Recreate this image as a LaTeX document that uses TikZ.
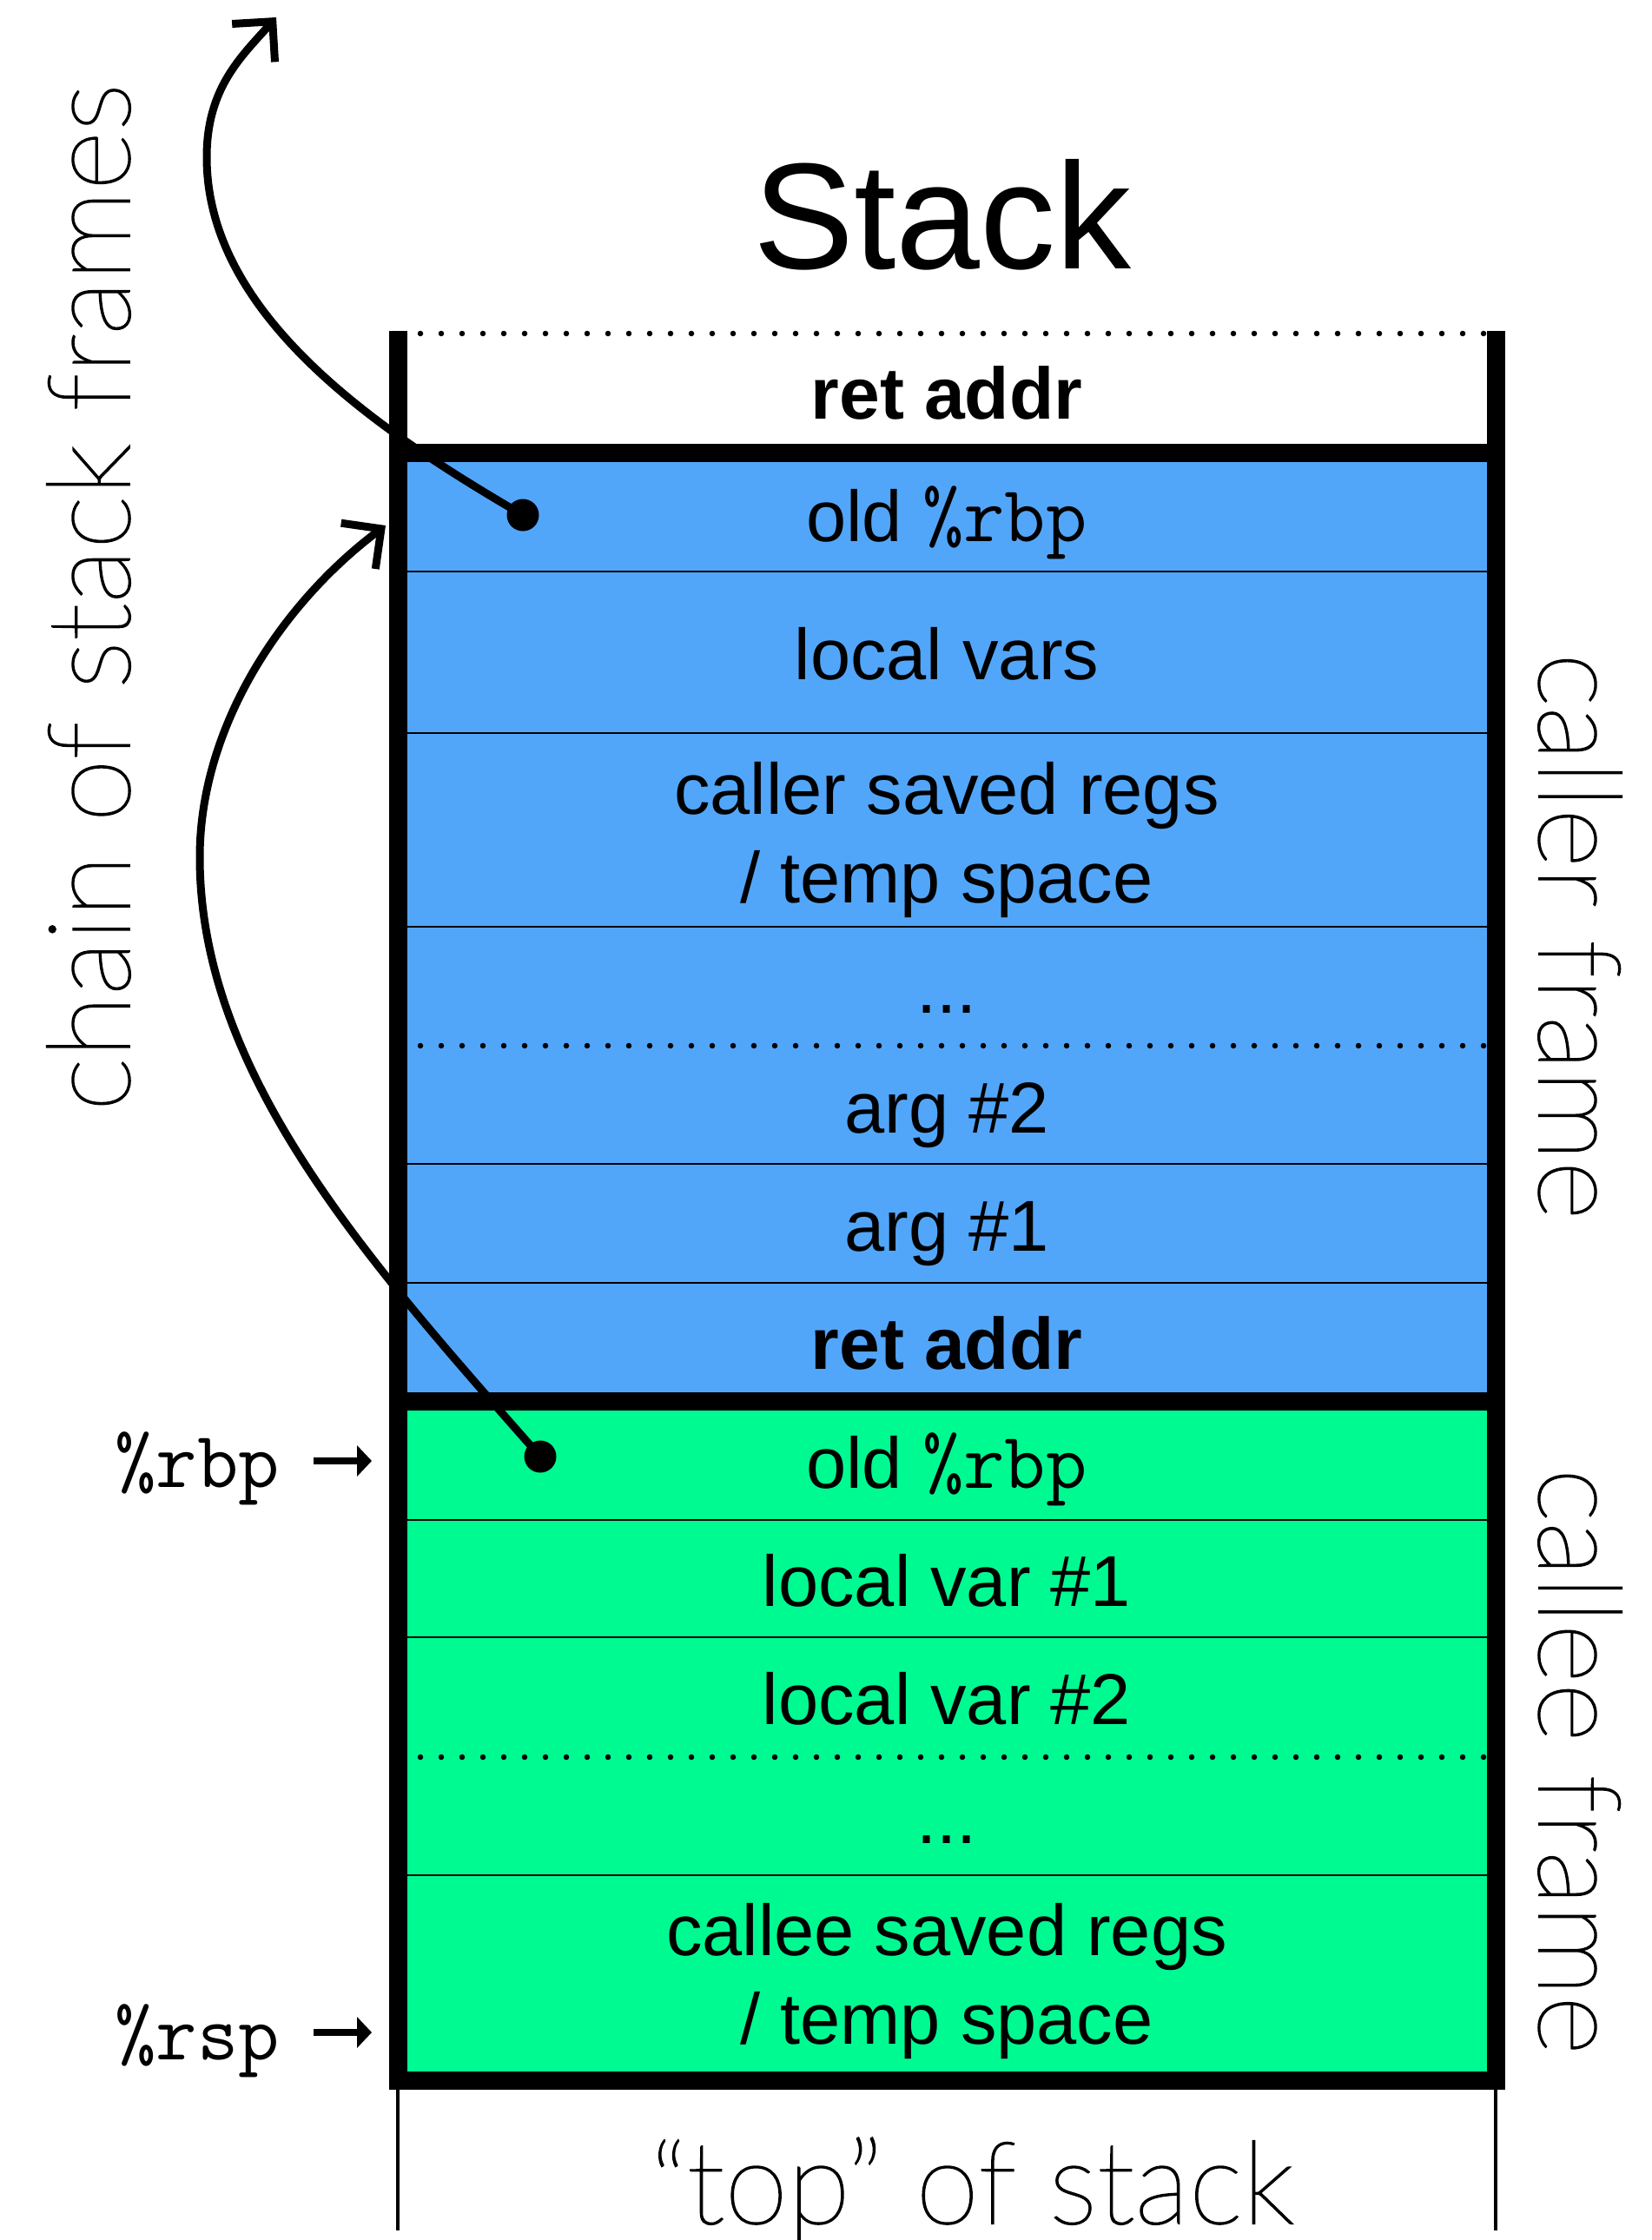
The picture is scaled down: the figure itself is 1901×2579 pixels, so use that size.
\documentclass[tikz,border=0pt]{standalone}
\usepackage{fontspec}
\setmainfont{Liberation Sans}
\IfFontExistsTF{Lato Thin}{\newfontfamily\thinfont{Lato Thin}[FakeBold=1.5]}{\newfontfamily\thinfont{Lato Light}}
\usetikzlibrary{arrows.meta}
\definecolor{callerblue}{RGB}{82,166,250}
\definecolor{calleegreen}{RGB}{0,250,146}
\newcommand\regtt[1]{{\fontsize{46pt}{50pt}\selectfont\ttfamily #1}}
\begin{document}
\begin{tikzpicture}[x=0.5pt,y=-0.5pt,
  cell/.style={anchor=base, inner sep=0pt, font=\fontsize{41.5pt}{50pt}\selectfont},
  boldcell/.style={anchor=base, inner sep=0pt, font=\fontsize{42pt}{50pt}\selectfont\bfseries},
  frameline/.style={line width=10.5pt},
  divider/.style={line width=1.25pt},
  dotline/.style={line width=3.25pt, line cap=round, dash pattern=on 0pt off 12pt},
  chainline/.style={line width=4.5pt, -{Straight Barb[length=16.5pt,width=33pt]}},
  regptr/.style={line width=4pt, -{Triangle[length=8.5pt,width=17.5pt]}},
  thinlabel/.style={anchor=base, inner sep=0pt, font=\thinfont\fontsize{66pt}{70pt}\selectfont},
  reglabel/.style={anchor=base west, inner sep=0pt, font=\fontsize{46pt}{50pt}\selectfont\ttfamily},
  bullet/.style={fill=black}
]
\fill[white] (0,0) rectangle (1901,2579);
\useasboundingbox (0,0) rectangle (1901,2579);

% fills
\fill[callerblue] (458,521) rectangle (1722,1613);
\fill[calleegreen] (458,1613) rectangle (1722,2395);

% thin dividers
\foreach \yy in {658,844,1067,1340,1477,1750,1885,2159}
  \draw[divider] (458,\yy) -- (1722,\yy);

% dotted lines
\foreach \yy in {384,1204,2023}
  \draw[dotline] (484,\yy) -- (1711,\yy);

% frame
\draw[frameline] (458,381) -- (458,2395) -- (1722,2395) -- (1722,381);
\draw[frameline] (458,521) -- (1722,521);
\draw[frameline] (458,1613) -- (1722,1613);
\draw[line width=2.25pt] (458,2400) -- (458,2568);
\draw[line width=2.25pt] (1722,2400) -- (1722,2568);

% title
\node[anchor=base, inner sep=0pt, font=\fontsize{87pt}{90pt}\selectfont] (title) at (1085,309) {Stack};

% cells
\node[boldcell] (retA) at (1090,482) {ret addr};
\node[cell] (oldA) at (1090,623) {old \regtt{\%rbp}};
\node[cell] (lvars) at (1090,782) {local vars};
\node[cell] (csrA) at (1090,937) {caller saved regs};
\node[cell] (csrB) at (1090,1039) {/ temp space};
\node[cell] (dotsA) at (1090,1166) {...};
\node[cell] (arg2) at (1090,1304) {arg \#2};
\node[cell] (arg1) at (1090,1440) {arg \#1};
\node[boldcell] (retB) at (1090,1576) {ret addr};
\node[cell] (oldB) at (1090,1713) {old \regtt{\%rbp}};
\node[cell] (lv1) at (1090,1849) {local var \#1};
\node[cell] (lv2) at (1090,1985) {local var \#2};
\node[cell] (dotsB) at (1090,2122) {...};
\node[cell] (cesA) at (1090,2251) {callee saved regs};
\node[cell] (cesB) at (1090,2353) {/ temp space};

% side labels
\node[thinlabel, rotate=90] (chain) at (149,688) {chain of stack frames};
\node[thinlabel, rotate=-90] (callerF) at (1772,1078) {caller frame};
\node[thinlabel, rotate=-90] (calleeF) at (1772,2028) {callee frame};
\node[thinlabel] (topS) at (1119,2560) {“top” of stack};

% register pointers
\node[reglabel] (rbpL) at (132,1712) {\%rbp};
\node[reglabel] (rspL) at (132,2371) {\%rsp};
\coordinate (rbpS) at (361,1682);
\coordinate (rbpT) at (428,1682);
\coordinate (rspS) at (361,2340);
\coordinate (rspT) at (428,2340);
\draw[regptr] (rbpS) -- (rbpT);
\draw[regptr] (rspS) -- (rspT);

% chain of frame pointers
\coordinate (bA) at (602,593);
\coordinate (bB) at (622,1677);
\coordinate (tipA) at (318,20);
\coordinate (tipB) at (444,605);
\draw[chainline] (bA) .. controls (430,493) and (238,361) .. (238,181)
  .. controls (238,101) and (278,65) .. (tipA);
\draw[chainline] (bB) .. controls (424,1452) and (230,1237) .. (230,987)
  .. controls (230,837) and (324,695) .. (tipB);
\fill[bullet] (bA) circle[radius=9.25pt];
\fill[bullet] (bB) circle[radius=9.25pt];
\end{tikzpicture}
\end{document}
